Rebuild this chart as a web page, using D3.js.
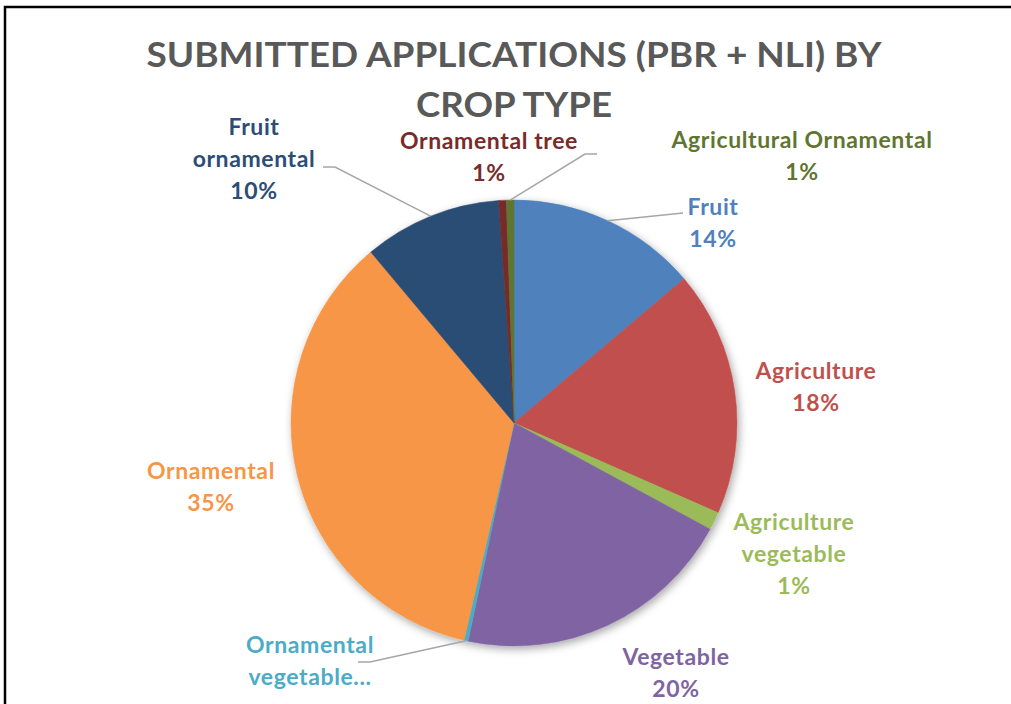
<!DOCTYPE html>
<html lang="en">
<head>
    <meta charset="UTF-8">
    <title>Submitted applications by crop type</title>
    <style>
        body { margin: 0; background: #fff; }
        svg text { font-family: Lato, "Open Sans", sans-serif; font-weight: bold; }
    </style>
</head>
<body>
<svg id="chart"></svg>
<script src="https://cdnjs.cloudflare.com/ajax/libs/d3/7.8.5/d3.min.js"></script>
<script>
    const categories = ['Fruit', 'Agriculture', 'Agriculture vegetable', 'Vegetable', 'Ornamental vegetable',
        'Ornamental', 'Fruit ornamental', 'Ornamental tree', 'Agricultural Ornamental']
    const shares = [13.8, 17.8, 1.3, 20.4, 0.3, 35.3, 10.0, 0.55, 0.55]
    const sliceColors = ['#4f81bd', '#c0504d', '#9bbb59', '#8064a2', '#4bacc6',
        '#f79646', '#2c4d75', '#772c2a', '#5f7530']
    const labelLines = [
        ['Fruit'], ['Agriculture'], ['Agriculture', 'vegetable'], ['Vegetable'], ['Ornamental', 'vegetable...'],
        ['Ornamental'], ['Fruit', 'ornamental'], ['Ornamental tree'], ['Agricultural Ornamental']
    ]
    const titleLines = ['SUBMITTED APPLICATIONS (PBR + NLI) BY', 'CROP TYPE']

    // where excel parked each label: centre x, first baseline y, optional leader elbow
    const labelLayout = {
        'Fruit': {x: 713, y: 215, elbow: [[683, 213]]},
        'Agriculture': {x: 816, y: 379},
        'Agriculture vegetable': {x: 794, y: 530},
        'Vegetable': {x: 676, y: 665},
        'Ornamental vegetable': {x: 310, y: 653, noPct: true, elbow: [[370, 662], [358, 662]]},
        'Ornamental': {x: 211, y: 479},
        'Fruit ornamental': {x: 254, y: 135, elbow: [[335, 167], [323, 167]]},
        'Ornamental tree': {x: 489, y: 149},
        'Agricultural Ornamental': {x: 802, y: 148, elbow: [[585, 154], [597, 154]]}
    }

    const W = 1011, H = 704
    const cx = 514, cy = 423, R = 223
    const lineGap = 32

    const svg = d3.select('#chart').attr('width', W).attr('height', H)

    const defs = svg.append('defs')
    defs.append('filter').attr('id', 'shadow')
        .attr('x', '-10%').attr('y', '-10%').attr('width', '130%').attr('height', '130%')
        .append('feDropShadow')
        .attr('dx', 2).attr('dy', 3).attr('stdDeviation', 4)
        .attr('flood-color', '#000').attr('flood-opacity', 0.35)

    // frame around the pasted chart (only top and left are inside the shot)
    svg.append('rect')
        .attr('x', 5).attr('y', 7).attr('width', W + 20).attr('height', H + 20)
        .attr('fill', 'none').attr('stroke', '#000').attr('stroke-width', 2.5)

    const title = svg.append('g').attr('fill', '#595959')
    title.selectAll('text').data(titleLines).enter().append('text')
        .attr('x', cx)
        .attr('y', (d, i) => 67 + i * 50)
        .attr('text-anchor', 'middle')
        .attr('font-size', 35)
        .attr('textLength', (d, i) => i === 0 ? 735 : 196)
        .attr('lengthAdjust', 'spacingAndGlyphs')
        .text(d => d)

    const total = d3.sum(shares)
    const rows = categories.map((c, i) => ({name: c, value: shares[i], color: sliceColors[i], lines: labelLines[i]}))

    const pie = d3.pie().value(d => d.value).sort(null)
    const arc = d3.arc().innerRadius(0).outerRadius(R)
    const arcs = pie(rows)

    const g = svg.append('g').attr('transform', `translate(${cx},${cy})`)
    g.append('g').attr('filter', 'url(#shadow)')
        .selectAll('path').data(arcs).enter().append('path')
        .attr('d', arc)
        .attr('fill', d => d.data.color)
        .attr('stroke', d => d.data.color)
        .attr('stroke-width', 0.5)

    const pct = d3.format('.0%')

    // leader lines
    arcs.forEach(a => {
        const lay = labelLayout[a.data.name]
        if (!lay.elbow) return
        const mid = (a.startAngle + a.endAngle) / 2
        const start = [cx + R * Math.sin(mid), cy - R * Math.cos(mid)]
        svg.append('path')
            .attr('d', d3.line()([start, ...lay.elbow]))
            .attr('fill', 'none')
            .attr('stroke', '#a6a6a6')
            .attr('stroke-width', 1.5)
    })

    // labels
    arcs.forEach(a => {
        const lay = labelLayout[a.data.name]
        const lines = lay.noPct ? a.data.lines : [...a.data.lines, pct(a.data.value / total)]
        svg.append('g').attr('fill', a.data.color)
            .selectAll('text').data(lines).enter().append('text')
            .attr('x', lay.x)
            .attr('y', (d, i) => lay.y + i * lineGap)
            .attr('text-anchor', 'middle')
            .attr('font-size', 23)
            .attr('letter-spacing', 0.6)
            .text(d => d)
    })
</script>
</body>
</html>
